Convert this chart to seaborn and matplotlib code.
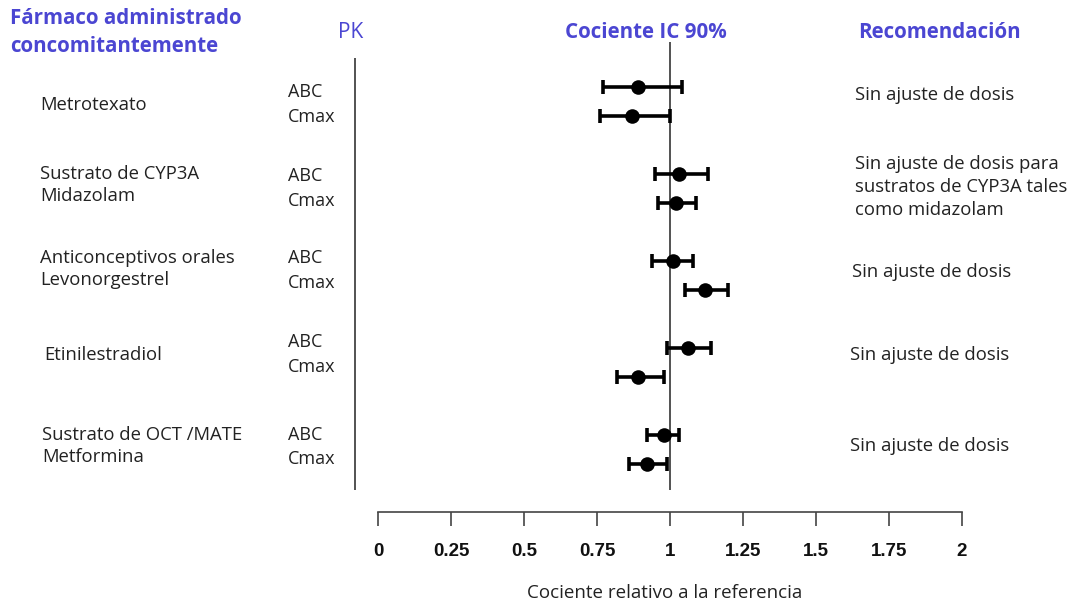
import numpy as np
import pandas as pd
import seaborn as sns
import matplotlib
matplotlib.use("Agg")
import matplotlib.pyplot as plt

# datos
drugs = ["Metrotexato", "Sustrato de CYP3A\nMidazolam", "Anticonceptivos orales\nLevonorgestrel",
         "Etinilestradiol", "Sustrato de OCT /MATE\nMetformina"]
recs = ["Sin ajuste de dosis", "Sin ajuste de dosis para\nsustratos de CYP3A tales\ncomo midazolam",
        "Sin ajuste de dosis", "Sin ajuste de dosis", "Sin ajuste de dosis"]
pk = ["ABC", "Cmax"]
ratio_abc = [0.89, 1.03, 1.01, 1.06, 0.98]
lo_abc = [0.77, 0.95, 0.94, 0.99, 0.92]
hi_abc = [1.04, 1.13, 1.08, 1.14, 1.03]
ratio_cmax = [0.87, 1.02, 1.12, 0.89, 0.92]
lo_cmax = [0.76, 0.96, 1.05, 0.82, 0.86]
hi_cmax = [1.00, 1.09, 1.20, 0.98, 0.99]
xticks = [0, 0.25, 0.5, 0.75, 1, 1.25, 1.5, 1.75, 2]
xticklabels = ["0", "0.25", "0.5", "0.75", "1", "1.25", "1.5", "1.75", "2"]

sns.set_style("white")
plt.rcParams['font.family'] = ['Open Sans', 'DejaVu Sans']

blue = "#4b46d2"
W, H = 1085, 603
x0, px_unit = 378, 292.0  # pixel de x=0 y pixeles por unidad

rows = []
for i in range(len(drugs)):
    gy = 87 + 87 * i
    rows.append(dict(drug=i, pk="ABC", y=gy, r=ratio_abc[i], lo=lo_abc[i], hi=hi_abc[i]))
    rows.append(dict(drug=i, pk="Cmax", y=gy + 28.5, r=ratio_cmax[i], lo=lo_cmax[i], hi=hi_cmax[i]))
df = pd.DataFrame(rows)

fig = plt.figure(figsize=(W / 100, H / 100), dpi=100)
ax = fig.add_axes([0, 0, 1, 1])
ax.set_xlim(-x0 / px_unit, (W - x0) / px_unit)
ax.set_ylim(H, 0)


def px(p):
    return (p - x0) / px_unit


# lineas de referencia
ax.vlines(1, 42, 490, color="#444444", lw=1.3, zorder=1)
ax.vlines(px(355), 58, 490, color="#444444", lw=1.3, zorder=1)

# intervalos y puntos
ax.errorbar(df["r"], df["y"], xerr=[df["r"] - df["lo"], df["hi"] - df["r"]],
            fmt="none", ecolor="black", elinewidth=2.6, capsize=5, capthick=2.6, zorder=2)
sns.scatterplot(data=df, x="r", y="y", ax=ax, color="black", s=110, edgecolor="black",
                linewidth=0, zorder=3, legend=False)

# eje x
for s in ["top", "left", "right"]:
    ax.spines[s].set_visible(False)
ax.spines["bottom"].set_position(("data", 512))
ax.spines["bottom"].set_bounds(0, 2)
ax.spines["bottom"].set_color("#444444")
ax.spines["bottom"].set_linewidth(1.2)
ax.set_xticks(xticks)
ax.set_xticklabels(xticklabels, fontfamily="Liberation Sans", fontweight="bold",
                   fontsize=13.5, color="#111111")
ax.tick_params(axis="x", bottom=True, direction="out", length=10, width=1.2,
               color="#444444", pad=12)
ax.set_yticks([])
ax.set_xlabel("")
ax.set_ylabel("")
ax.text(px(665), 593, "Cociente relativo a la referencia", ha="center", va="center",
        fontsize=13.5, color="#222222")

# encabezados
ax.text(px(10), 18, "Fármaco administrado", ha="left", va="center", fontsize=14.8,
        fontweight="bold", color=blue)
ax.text(px(10), 46, "concomitantemente", ha="left", va="center", fontsize=14.8,
        fontweight="bold", color=blue)
ax.text(px(338), 33, "PK", ha="left", va="center", fontsize=15, color=blue)
ax.text(px(646), 32, "Cociente IC 90%", ha="center", va="center", fontsize=14.8,
        fontweight="bold", color=blue)
ax.text(px(858), 32, "Recomendación", ha="left", va="center", fontsize=14.8,
        fontweight="bold", color=blue)

# textos por fila
drug_y = [105, 185, 269, 355, 446]
drug_x = [40, 40, 40, 44, 42]
abc_y = [92, 176, 258, 342, 435]
rec_y = [95, 187, 272, 355, 446]
rec_x = [855, 855, 852, 850, 850]
for i in range(len(drugs)):
    ax.text(px(drug_x[i]), drug_y[i], drugs[i], ha="left", va="center", fontsize=13.3,
            color="#222222", linespacing=1.33)
    ax.text(px(288), abc_y[i], pk[0], ha="left", va="center", fontsize=13, color="#222222")
    ax.text(px(288), abc_y[i] + 24.5, pk[1], ha="left", va="center", fontsize=13, color="#222222")
    ax.text(px(rec_x[i]), rec_y[i], recs[i], ha="left", va="center", fontsize=13.3,
            color="#222222", linespacing=1.33)

fig.savefig("out.png", dpi=100)
